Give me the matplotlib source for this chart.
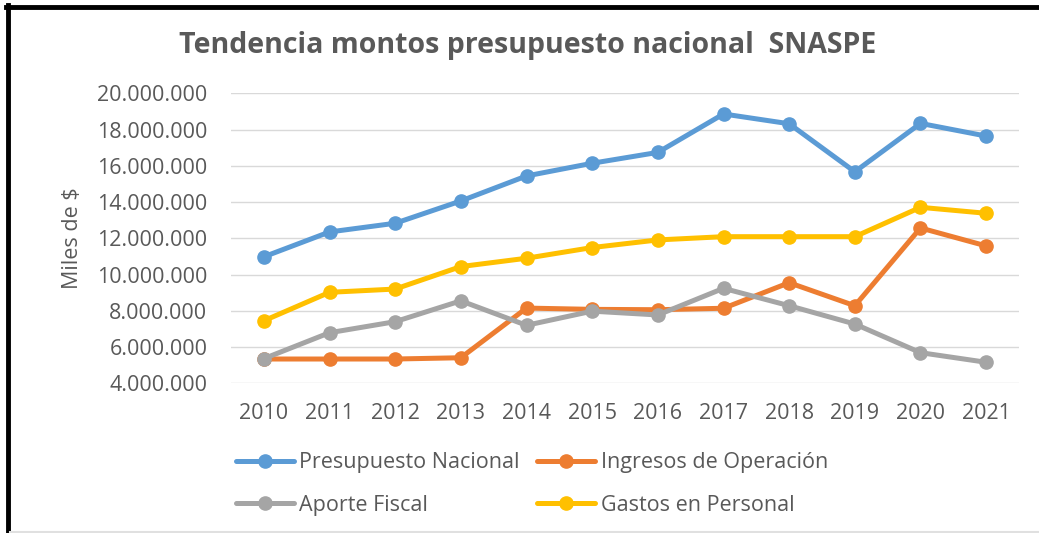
import matplotlib
matplotlib.use('Agg')
import matplotlib.pyplot as plt
from matplotlib.lines import Line2D
from matplotlib.ticker import FuncFormatter

years = ['2010', '2011', '2012', '2013', '2014', '2015', '2016', '2017', '2018', '2019', '2020', '2021']
presupuesto = [10.98, 12.35, 12.83, 14.06, 15.44, 16.14, 16.74, 18.86, 18.32, 15.67, 18.34, 17.64]
ingresos = [5.34, 5.34, 5.34, 5.41, 8.15, 8.08, 8.06, 8.14, 9.55, 8.28, 12.57, 11.58]
aporte = [5.36, 6.79, 7.40, 8.55, 7.20, 7.98, 7.77, 9.24, 8.28, 7.27, 5.69, 5.16]
gastos = [7.45, 9.02, 9.20, 10.44, 10.90, 11.49, 11.91, 12.09, 12.09, 12.09, 13.71, 13.38]

series_names = ['Presupuesto Nacional', 'Ingresos de Operación', 'Aporte Fiscal', 'Gastos en Personal']
colors = ['#5B9BD5', '#ED7D31', '#A5A5A5', '#FFC000']
text_col = '#595959'

plt.rcParams['font.family'] = ['Open Sans', 'DejaVu Sans']

fig = plt.figure(figsize=(10.39, 5.33), dpi=100)
ax = fig.add_axes([231/1039, 1 - 383.3/533, (1019 - 231)/1039, (383.3 - 93.3)/533])

x = list(range(len(years)))
handles = []
for vals, name, c in zip([presupuesto, ingresos, aporte, gastos], series_names, colors):
    h, = ax.plot(x, [v * 1e6 for v in vals], color=c, lw=3.6, marker='o', ms=9.5,
                 label=name, solid_capstyle='round')
    handles.append(h)

ax.set_xlim(-0.5, len(years) - 0.5)
ax.set_ylim(4e6, 20e6)
ax.set_yticks([4e6 + 2e6 * i for i in range(9)])
ax.yaxis.set_major_formatter(FuncFormatter(lambda v, p: f"{int(v):,}".replace(',', '.')))
ax.set_xticks(x)
ax.set_xticklabels(years)
ax.grid(axis='y', color='#D9D9D9', lw=1)
ax.set_axisbelow(True)
for s in ax.spines.values():
    s.set_visible(False)
ax.tick_params(length=0, labelsize=15.5, colors=text_col)
ax.tick_params(axis='y', pad=17)
ax.tick_params(axis='x', pad=14)
ax.set_ylabel('Miles de $', fontsize=15.5, color=text_col, labelpad=10)

fig.text(0.508, 1 - 46/533, 'Tendencia montos presupuesto nacional  SNASPE', ha='center', va='center',
         fontsize=20.5, fontweight='bold', color=text_col)

# row-wise order: P, I / A, G
order = [0, 2, 1, 3]
leg = fig.legend([handles[i] for i in order], [series_names[i] for i in order],
                 loc='center', bbox_to_anchor=(0.512, 1 - 484/533), ncol=2, frameon=False,
                 fontsize=15.5, handlelength=2.7, columnspacing=0.8, labelspacing=1.0,
                 handletextpad=0.25)
for t in leg.get_texts():
    t.set_color(text_col)

# frame of the original screenshot
fig.add_artist(Line2D([0.006, 1], [1 - 7/533, 1 - 7/533], transform=fig.transFigure, color='black', lw=3.5))
fig.add_artist(Line2D([8/1039, 8/1039], [0, 1 - 5/533], transform=fig.transFigure, color='black', lw=3.5))
fig.add_artist(Line2D([0.01, 1], [1/533, 1/533], transform=fig.transFigure, color='#E0E0E0', lw=1.5))

fig.savefig('out.png', dpi=100)
